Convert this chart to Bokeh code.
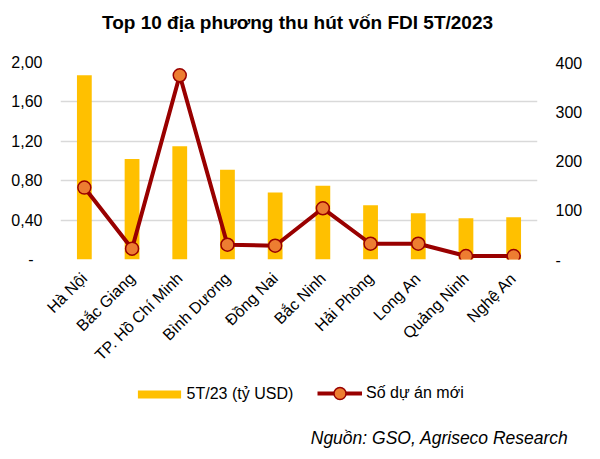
import math
from bokeh.plotting import figure
from bokeh.layouts import column
from bokeh.models import (ColumnDataSource, Range1d, LinearAxis, FixedTicker,
                          Legend, LegendItem, Label, FactorRange)
from bokeh.embed import file_html
from bokeh.resources import INLINE

# ---- data ----
provinces = ["Hà Nội", "Bắc Giang", "TP. Hồ Chí Minh", "Bình Dương", "Đồng Nai",
             "Bắc Ninh", "Hải Phòng", "Long An", "Quảng Ninh", "Nghệ An"]
fdi_bn_usd = [1.87, 1.02, 1.15, 0.91, 0.68, 0.75, 0.55, 0.47, 0.42, 0.43]
new_projects = [146, 22, 374, 30, 28, 104, 32, 32, 7, 7]

left_ticks = [0, 0.4, 0.8, 1.2, 1.6, 2]
left_tick_labels = ["-\u00a0\u00a0", "0,40", "0,80", "1,20", "1,60", "2,00"]
right_ticks = [0, 100, 200, 300, 400]
right_tick_labels = ["-", "100", "200", "300", "400"]

title_text = "Top 10 địa phương thu hút vốn FDI 5T/2023"
series_bar = "5T/23 (tỷ USD)"
series_line = "Số dự án mới"
source_text = "Nguồn: GSO, Agriseco Research"

FONT = "Liberation Sans"
BAR_COLOR = "#FFC000"
LINE_COLOR = "#990000"
MARKER_COLOR = "#ED7D31"
GRID_COLOR = "#D9D9D9"


def blank_figure(h):
    fig = figure(width=600, height=h, x_range=Range1d(0, 600), y_range=Range1d(0, h),
                 output_backend="svg", toolbar_location=None,
                 min_border=0, min_border_left=0, min_border_right=0,
                 min_border_top=0, min_border_bottom=0)
    fig.frame_align = False
    fig.axis.visible = False
    fig.grid.grid_line_color = None
    fig.outline_line_color = None
    fig.border_fill_color = "white"
    return fig


# ---------------- header: title ----------------
hdr = blank_figure(40)
hdr.add_layout(Label(x=297, y=18, text=title_text, text_font=FONT,
                     text_font_style="bold", text_font_size="19px",
                     text_align="center", text_baseline="middle",
                     text_color="#000000"))

# ---------------- main chart ----------------
src = ColumnDataSource(dict(x=provinces, fdi=fdi_bn_usd, proj=new_projects))

p = figure(width=600, height=335, x_range=FactorRange(*provinces, range_padding=0),
           y_range=Range1d(0, 2), output_backend="svg", toolbar_location=None,
           min_border_left=60, min_border_right=63, min_border_top=22,
           min_border_bottom=116)
p.frame_align = False
p.outline_line_color = None
p.background_fill_color = "white"
p.border_fill_color = "white"
p.extra_y_ranges = {"right": Range1d(0, 400)}

p.vbar(x="x", top="fdi", width=0.31, source=src, fill_color=BAR_COLOR,
       line_color=None)
p.line(x="x", y="proj", source=src, y_range_name="right",
       line_color=LINE_COLOR, line_width=4)
p.scatter(x="x", y="proj", source=src, y_range_name="right", size=13,
          fill_color=MARKER_COLOR, line_color=LINE_COLOR, line_width=1.5)

# left axis
ya = p.yaxis[0]
ya.ticker = FixedTicker(ticks=left_ticks)
ya.major_label_overrides = {t: l for t, l in zip(left_ticks, left_tick_labels)}
ya.axis_line_color = None
ya.major_tick_line_color = None
ya.major_tick_out = 0
ya.major_tick_in = 0
ya.minor_tick_line_color = None
ya.major_label_standoff = 18
ya.major_label_text_font = FONT
ya.major_label_text_font_size = "16px"
ya.major_label_text_color = "#000000"

# right axis
ra = LinearAxis(y_range_name="right", ticker=FixedTicker(ticks=right_ticks))
ra.major_label_overrides = {t: l for t, l in zip(right_ticks, right_tick_labels)}
ra.axis_line_color = None
ra.major_tick_line_color = None
ra.major_tick_out = 0
ra.major_tick_in = 0
ra.minor_tick_line_color = None
ra.major_label_standoff = 18
ra.major_label_text_font = FONT
ra.major_label_text_font_size = "16px"
ra.major_label_text_color = "#000000"
p.add_layout(ra, "right")

# x axis
xa = p.xaxis[0]
xa.axis_line_color = None
xa.major_tick_line_color = None
xa.major_tick_out = 0
xa.major_tick_in = 0
xa.major_label_orientation = math.pi / 4
xa.major_label_standoff = 16
xa.major_label_text_font = FONT
xa.major_label_text_font_size = "16px"
xa.major_label_text_color = "#000000"

p.xgrid.grid_line_color = None
p.ygrid.ticker = FixedTicker(ticks=left_ticks)
p.ygrid.grid_line_color = GRID_COLOR
p.ygrid.grid_line_width = 1.5

# ---------------- footer: legend + source ----------------
ftr = blank_figure(84)
# legend proxies (one datum each, placed off-canvas so only the legend shows them)
proxy = ColumnDataSource(dict(x=[-1000], y=[-1000]))
lg_bar = ftr.vbar(x="x", top="y", width=1, source=proxy, fill_color=BAR_COLOR,
                  line_color=None)
lg_line = ftr.line(x="x", y="y", source=proxy, line_color=LINE_COLOR, line_width=4)
lg_pts = ftr.scatter(x="x", y="y", source=proxy, size=13, fill_color=MARKER_COLOR,
                     line_color=LINE_COLOR, line_width=1.5)

legend_common = dict(orientation="horizontal", padding=0, margin=0,
                     border_line_color=None, background_fill_alpha=0,
                     label_text_font=FONT, label_text_font_size="16px",
                     label_text_color="#000000")

legend_bar = Legend(items=[LegendItem(label=series_bar, renderers=[lg_bar])],
                    location=(131.6, 56.5), glyph_width=54, glyph_height=10,
                    label_standoff=1, **legend_common)
ftr.add_layout(legend_bar, "center")

legend_line = Legend(items=[LegendItem(label=series_line, renderers=[lg_line, lg_pts])],
                     location=(317, 51), glyph_width=45, glyph_height=30,
                     label_standoff=4, **legend_common)
ftr.add_layout(legend_line, "center")

ftr.add_layout(Label(x=568, y=22, text=source_text, text_font=FONT,
                     text_font_style="italic", text_font_size="17.5px",
                     text_align="right", text_baseline="middle",
                     text_color="#000000"))

layout = column(hdr, p, ftr, spacing=0)
open("out.html", "w").write(file_html(layout, INLINE))
